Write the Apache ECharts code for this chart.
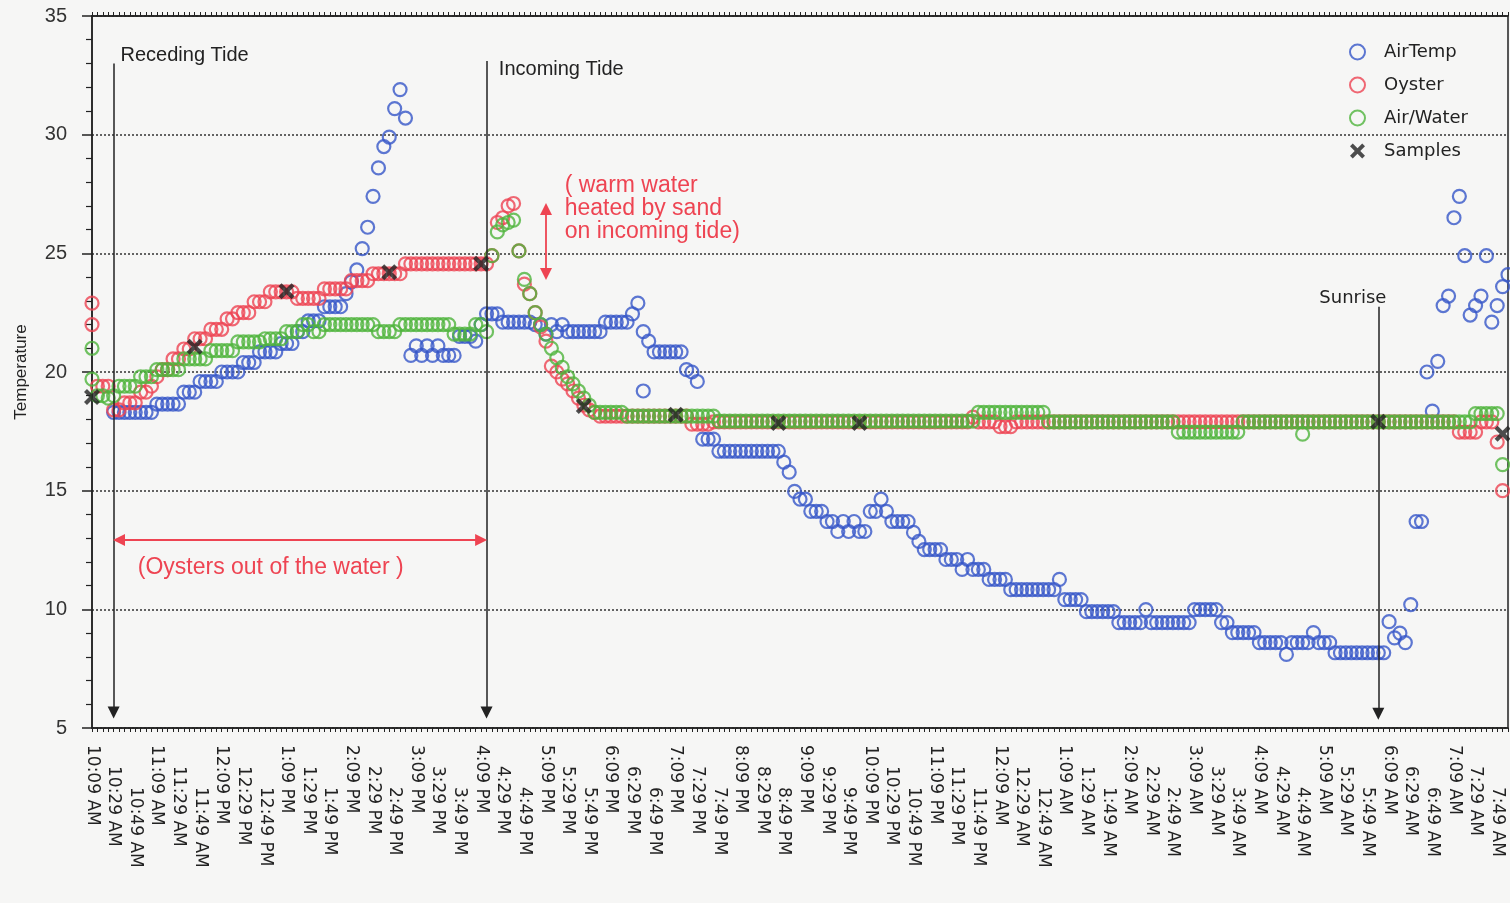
<!DOCTYPE html>
<html><head><meta charset="utf-8">
<script src="https://cdn.jsdelivr.net/npm/echarts/dist/echarts.min.js"></script>
<style>html,body{margin:0;padding:0;background:#f6f6f5}#chart{width:1510px;height:903px}</style>
</head><body><div id="chart"></div>
<script>
// 20-minute tick labels shown on the x axis
const tickLabels = ['10:09 AM','10:29 AM','10:49 AM','11:09 AM','11:29 AM','11:49 AM','12:09 PM','12:29 PM','12:49 PM',
 '1:09 PM','1:29 PM','1:49 PM','2:09 PM','2:29 PM','2:49 PM','3:09 PM','3:29 PM','3:49 PM','4:09 PM','4:29 PM','4:49 PM',
 '5:09 PM','5:29 PM','5:49 PM','6:09 PM','6:29 PM','6:49 PM','7:09 PM','7:29 PM','7:49 PM','8:09 PM','8:29 PM','8:49 PM',
 '9:09 PM','9:29 PM','9:49 PM','10:09 PM','10:29 PM','10:49 PM','11:09 PM','11:29 PM','11:49 PM','12:09 AM','12:29 AM','12:49 AM',
 '1:09 AM','1:29 AM','1:49 AM','2:09 AM','2:29 AM','2:49 AM','3:09 AM','3:29 AM','3:49 AM','4:09 AM','4:29 AM','4:49 AM',
 '5:09 AM','5:29 AM','5:49 AM','6:09 AM','6:29 AM','6:49 AM','7:09 AM','7:29 AM','7:49 AM'];

// 5-minute reading times (categories), 10:09 AM .. 7:59 AM
const times = [];
for (let i = 0; i < 263; i++) {
  const m = (609 + 5 * i) % 1440, h = Math.floor(m / 60), mm = m % 60;
  times.push((h % 12 === 0 ? 12 : h % 12) + ':' + (mm < 10 ? '0' : '') + mm + ' ' + (h < 12 ? 'AM' : 'PM'));
}

const airTemp = [
 null,null,null,null,18.3,18.3,18.3,18.3,18.3,18.3,
 18.3,18.3,18.65,18.65,18.65,18.65,18.65,19.15,19.15,19.15,
 19.6,19.6,19.6,19.6,20.0,20.0,20.0,20.0,20.4,20.4,
 20.4,20.85,20.85,20.85,20.85,21.2,21.2,21.2,21.7,21.7,
 22.15,22.15,22.15,22.75,22.75,22.75,22.75,23.3,23.8,24.3,
 25.2,26.1,27.4,28.6,29.5,29.9,31.1,31.9,30.7,20.7,
 21.1,20.7,21.1,20.7,21.1,20.7,20.7,20.7,21.5,21.5,
 21.5,21.3,22.0,22.45,22.45,22.45,22.1,22.1,22.1,22.1,
 22.1,22.1,22.0,22.0,21.6,22.0,21.7,22.0,21.7,21.7,
 21.7,21.7,21.7,21.7,21.7,22.1,22.1,22.1,22.1,22.1,
 22.45,22.9,21.7,21.3,20.85,20.85,20.85,20.85,20.85,20.85,
 20.1,20.0,19.6,17.17,17.17,17.17,16.66,16.66,16.66,16.66,
 16.66,16.66,16.66,16.66,16.66,16.66,16.66,16.66,16.2,15.78,
 14.97,14.64,14.64,14.13,14.13,14.13,13.7,13.7,13.28,13.7,
 13.28,13.7,13.28,13.28,14.13,14.13,14.64,14.13,13.7,13.7,
 13.7,13.7,13.24,12.86,12.52,12.52,12.52,12.52,12.1,12.1,
 12.1,11.68,12.1,11.68,11.68,11.68,11.26,11.26,11.26,11.26,
 10.83,10.83,10.83,10.83,10.83,10.83,10.83,10.83,10.83,11.26,
 10.41,10.41,10.41,10.41,9.9,9.9,9.9,9.9,9.9,9.9,
 9.44,9.44,9.44,9.44,9.44,9.99,9.44,9.44,9.44,9.44,
 9.44,9.44,9.44,9.44,9.99,9.99,9.99,9.99,9.99,9.44,
 9.44,9.02,9.02,9.02,9.02,9.02,8.6,8.6,8.6,8.6,
 8.6,8.1,8.6,8.6,8.6,8.6,9.02,8.6,8.6,8.6,
 8.17,8.17,8.17,8.17,8.17,8.17,8.17,8.17,8.17,8.17,
 9.48,8.8,9.0,8.6,10.2,13.7,13.7,20.0,18.35,20.45,
 22.8,23.2,26.5,27.4,24.9,22.4,22.8,23.2,24.9,22.1,
 22.8,23.6,24.1
];
const oyster = [
 22.9,19.4,19.4,19.4,18.4,18.4,18.7,18.7,18.7,19.15,
 19.15,19.4,19.8,20.1,20.1,20.55,20.55,20.97,20.97,21.4,
 21.4,21.4,21.8,21.8,21.8,22.24,22.24,22.5,22.5,22.5,
 22.96,22.96,22.96,23.38,23.38,23.38,23.38,23.38,23.1,23.1,
 23.1,23.1,23.1,23.5,23.5,23.5,23.5,23.5,23.85,23.85,
 23.85,23.85,24.14,24.14,24.14,24.14,24.14,24.14,24.56,24.56,
 24.56,24.56,24.56,24.56,24.56,24.56,24.56,24.56,24.56,24.56,
 24.56,24.56,24.56,24.56,24.9,26.3,26.5,27.0,27.1,25.1,
 23.7,23.3,22.5,21.9,21.3,20.25,20.0,19.7,19.5,19.2,
 18.9,18.6,18.4,18.3,18.14,18.14,18.14,18.14,18.14,18.14,
 18.14,18.14,18.14,18.14,18.14,18.14,18.14,18.14,18.14,18.14,
 18.14,17.8,17.8,17.8,17.8,17.9,17.9,17.9,17.9,17.9,
 17.9,17.9,17.9,17.9,17.9,17.9,17.9,17.9,17.9,17.9,
 17.9,17.9,17.9,17.9,17.9,17.9,17.9,17.9,17.9,17.9,
 17.9,17.9,17.9,17.9,17.9,17.9,17.9,17.9,17.9,17.9,
 17.9,17.9,17.9,17.9,17.9,17.9,17.9,17.9,17.9,17.9,
 17.9,17.9,17.9,18.1,17.9,17.9,17.9,17.9,17.7,17.7,
 17.7,17.9,17.9,17.9,17.9,17.9,17.9,17.9,17.9,17.9,
 17.9,17.9,17.9,17.9,17.9,17.9,17.9,17.9,17.9,17.9,
 17.9,17.9,17.9,17.9,17.9,17.9,17.9,17.9,17.9,17.9,
 17.9,17.9,17.9,17.9,17.9,17.9,17.9,17.9,17.9,17.9,
 17.9,17.9,17.9,17.9,17.9,17.9,17.9,17.9,17.9,17.9,
 17.9,17.9,17.9,17.9,17.9,17.9,17.9,17.9,17.9,17.9,
 17.9,17.9,17.9,17.9,17.9,17.9,17.9,17.9,17.9,17.9,
 17.9,17.9,17.9,17.9,17.9,17.9,17.9,17.9,17.9,17.9,
 17.9,17.9,17.9,17.47,17.47,17.47,17.47,17.9,17.9,17.9,
 17.05,15.0,null
];
const airWater = [
 21.0,19.0,19.0,18.9,19.0,19.4,19.4,19.4,19.4,19.8,
 19.8,19.8,20.1,20.1,20.1,20.1,20.1,20.55,20.55,20.55,
 20.55,20.55,20.9,20.9,20.9,20.9,20.9,21.27,21.27,21.27,
 21.27,21.27,21.4,21.4,21.4,21.4,21.7,21.7,21.7,22.0,
 22.0,21.7,21.7,22.0,22.0,22.0,22.0,22.0,22.0,22.0,
 22.0,22.0,22.0,21.7,21.7,21.7,21.7,22.0,22.0,22.0,
 22.0,22.0,22.0,22.0,22.0,22.0,22.0,21.6,21.6,21.6,
 21.6,22.0,22.0,21.7,24.9,25.9,26.2,26.3,26.4,25.1,
 23.9,23.3,22.5,22.0,21.6,21.0,20.6,20.2,19.8,19.5,
 19.2,18.9,18.6,18.3,18.3,18.3,18.3,18.3,18.3,18.14,
 18.14,18.14,18.14,18.14,18.14,18.14,18.14,18.14,18.14,18.14,
 18.14,18.14,18.14,18.14,18.14,18.14,17.93,17.93,17.93,17.93,
 17.93,17.93,17.93,17.93,17.93,17.93,17.93,17.93,17.93,17.93,
 17.93,17.93,17.93,17.93,17.93,17.93,17.93,17.93,17.93,17.93,
 17.93,17.93,17.93,17.93,17.93,17.93,17.93,17.93,17.93,17.93,
 17.93,17.93,17.93,17.93,17.93,17.93,17.93,17.93,17.93,17.93,
 17.93,17.93,17.93,17.93,18.3,18.3,18.3,18.3,18.3,18.3,
 18.3,18.3,18.3,18.3,18.3,18.3,18.3,17.9,17.9,17.9,
 17.9,17.9,17.9,17.9,17.9,17.9,17.9,17.9,17.9,17.9,
 17.9,17.9,17.9,17.9,17.9,17.9,17.9,17.9,17.9,17.9,
 17.9,17.47,17.47,17.47,17.47,17.47,17.47,17.47,17.47,17.47,
 17.47,17.47,17.47,17.9,17.9,17.9,17.9,17.9,17.9,17.9,
 17.9,17.9,17.9,17.9,17.9,17.9,17.9,17.9,17.9,17.9,
 17.9,17.9,17.9,17.9,17.9,17.9,17.9,17.9,17.9,17.9,
 17.9,17.9,17.9,17.9,17.9,17.9,17.9,17.9,17.9,17.9,
 17.9,17.9,17.9,17.9,17.9,17.9,18.25,18.25,18.25,18.25,
 18.25,16.1,null
];
// extra readings sharing a time slot with another reading
const airTempExtra = [['6:39 PM', 19.2]];
const oysterExtra = [['10:09 AM', 22.0]];
const airWaterExtra = [['10:09 AM', 19.7], ['4:49 AM', 17.38]];
// sample times
const samples = [['10:09 AM',18.95],['11:44 AM',21.06],['1:09 PM',23.4],['2:44 PM',24.2],['4:09 PM',24.56],
 ['5:44 PM',18.57],['7:09 PM',18.2],['8:44 PM',17.85],['9:59 PM',17.85],['5:59 AM',17.9],['7:54 AM',17.4]];

const BLUE = '#3656c8', RED = '#ee4452', GREEN = '#4fb43c', INK = '#222';
const XMARK = 'path://M0,2.6L2.6,0L7,4.4L11.4,0L14,2.6L9.6,7L14,11.4L11.4,14L7,9.6L2.6,14L0,11.4L4.4,7Z';

function ring(name, color, data, z) {
  return { name, type: 'scatter', data, symbol: 'circle', symbolSize: 13, z,
    itemStyle: { color: 'rgba(255,255,255,0)', borderColor: color, borderWidth: 2.2 },
    emphasis: { disabled: true }, silent: true };
}

const chart = echarts.init(document.getElementById('chart'));
const option = {
  animation: false,
  backgroundColor: '#f6f6f5',
  grid: { left: 92, right: 2, top: 16, bottom: 175, show: true, borderColor: INK, borderWidth: 1.5, backgroundColor: 'transparent' },
  legend: {
    data: ['AirTemp', 'Oyster', 'Air/Water', 'Samples'], orient: 'vertical', left: 1344, top: 38,
    itemWidth: 15, itemHeight: 15, itemGap: 15, selectedMode: false,
    textStyle: { fontFamily: 'DejaVu Sans', fontSize: 18, color: INK, padding: [0, 0, 0, 14] }
  },
  xAxis: [{
    type: 'category', data: times, boundaryGap: false,
    axisLine: { lineStyle: { color: INK, width: 1.5 } },
    axisTick: { show: true, interval: 0, length: 4, lineStyle: { color: INK } },
    splitLine: { show: false },
    axisLabel: {
      interval: 3, rotate: -90, margin: 17, color: INK, fontFamily: 'DejaVu Sans', fontSize: 17,
      formatter: function (v, i) {
        const k = Math.round(i / 4);
        if (i % 4 !== 0 || k >= tickLabels.length) return '';
        return '{l' + (k % 3) + '|' + tickLabels[k] + '}';
      },
      rich: { l0: { padding: [0, 0, 0, 0] }, l1: { padding: [0, 0, 0, 21] }, l2: { padding: [0, 0, 0, 42] } }
    }
  }, {
    type: 'category', data: times, boundaryGap: false, position: 'top',
    axisLine: { lineStyle: { color: INK, width: 1.5 } },
    axisTick: { show: true, interval: 0, length: 4, lineStyle: { color: INK } },
    axisLabel: { show: false }
  }],
  yAxis: {
    type: 'value', min: 5, max: 35, interval: 5,
    name: 'Temperature', nameLocation: 'middle', nameGap: 62, nameRotate: 90,
    nameTextStyle: { fontFamily: 'Liberation Sans', fontSize: 17, color: INK },
    axisLine: { show: true, lineStyle: { color: INK, width: 1.5 } },
    axisTick: { show: true, length: 10, lineStyle: { color: INK, width: 1.5 } },
    minorTick: { show: true, splitNumber: 5, length: 6, lineStyle: { color: INK, width: 1.2 } },
    axisLabel: { margin: 25, fontFamily: 'Liberation Sans', fontSize: 20, color: '#333' },
    splitLine: { show: true, lineStyle: { color: '#333', width: 1.5, type: [2, 2] } }
  },
  series: [
    ring('AirTemp', BLUE, airTemp, 2),
    ring('AirTemp', BLUE, airTempExtra, 2),
    ring('Oyster', RED, oyster, 3),
    ring('Oyster', RED, oysterExtra, 3),
    ring('Air/Water', GREEN, airWater, 4),
    ring('Air/Water', GREEN, airWaterExtra, 4),
    { name: 'Samples', type: 'scatter', data: samples, symbol: XMARK, symbolSize: 16, z: 6,
      itemStyle: { color: INK }, silent: true },
    { name: 'marks', type: 'scatter', data: [], silent: true, z: 7,
      markLine: {
        silent: true, animation: false, symbol: ['none', 'triangle'], symbolSize: 12,
        lineStyle: { color: INK, width: 1.5, type: 'solid' }, label: { show: false },
        data: [
          [{ coord: [times[4], 33.0] }, { coord: [times[4], 5.65] }],
          [{ coord: [times[73], 33.1] }, { coord: [times[73], 5.65] }],
          [{ coord: [times[238], 22.75] }, { coord: [times[238], 5.6] }]
        ]
      },
      markPoint: {
        silent: true, animation: false, symbol: 'circle', symbolSize: 1, itemStyle: { color: 'rgba(0,0,0,0)' },
        data: [
          { coord: [times[5], 33.35], label: { show: true, position: 'right', distance: 1, formatter: 'Receding Tide', fontFamily: 'Liberation Sans', fontSize: 20, color: INK } },
          { coord: [times[75], 32.75], label: { show: true, position: 'right', distance: 1, formatter: 'Incoming Tide', fontFamily: 'Liberation Sans', fontSize: 20, color: INK } },
          { coord: [times[227], 23.1], label: { show: true, position: 'right', distance: 0, formatter: 'Sunrise', fontFamily: 'DejaVu Sans', fontSize: 18, color: INK } }
        ]
      }
    },
    { name: 'notes', type: 'scatter', data: [], silent: true, z: 7,
      markLine: {
        silent: true, animation: false, symbol: ['triangle', 'triangle'], symbolSize: 12,
        lineStyle: { color: RED, width: 1.8, type: 'solid' }, label: { show: false },
        data: [
          [{ coord: [times[5], 12.92] }, { coord: [times[72], 12.92] }],
          [{ coord: [times[84], 26.87] }, { coord: [times[84], 24.13] }]
        ]
      },
      markPoint: {
        silent: true, animation: false, symbol: 'circle', symbolSize: 1, itemStyle: { color: 'rgba(0,0,0,0)' },
        data: [
          { coord: [times[8], 11.76], label: { show: true, position: 'right', distance: 2, formatter: '(Oysters out of the water )', fontFamily: 'Liberation Sans', fontSize: 23, color: RED } },
          { coord: [times[87], 26.9], label: { show: true, position: 'right', distance: 2, formatter: '( warm water\nheated by sand\non incoming tide)', fontFamily: 'Liberation Sans', fontSize: 23, lineHeight: 23, color: RED } }
        ]
      }
    }
  ]
};
chart.setOption(option);
</script>
</body></html>
